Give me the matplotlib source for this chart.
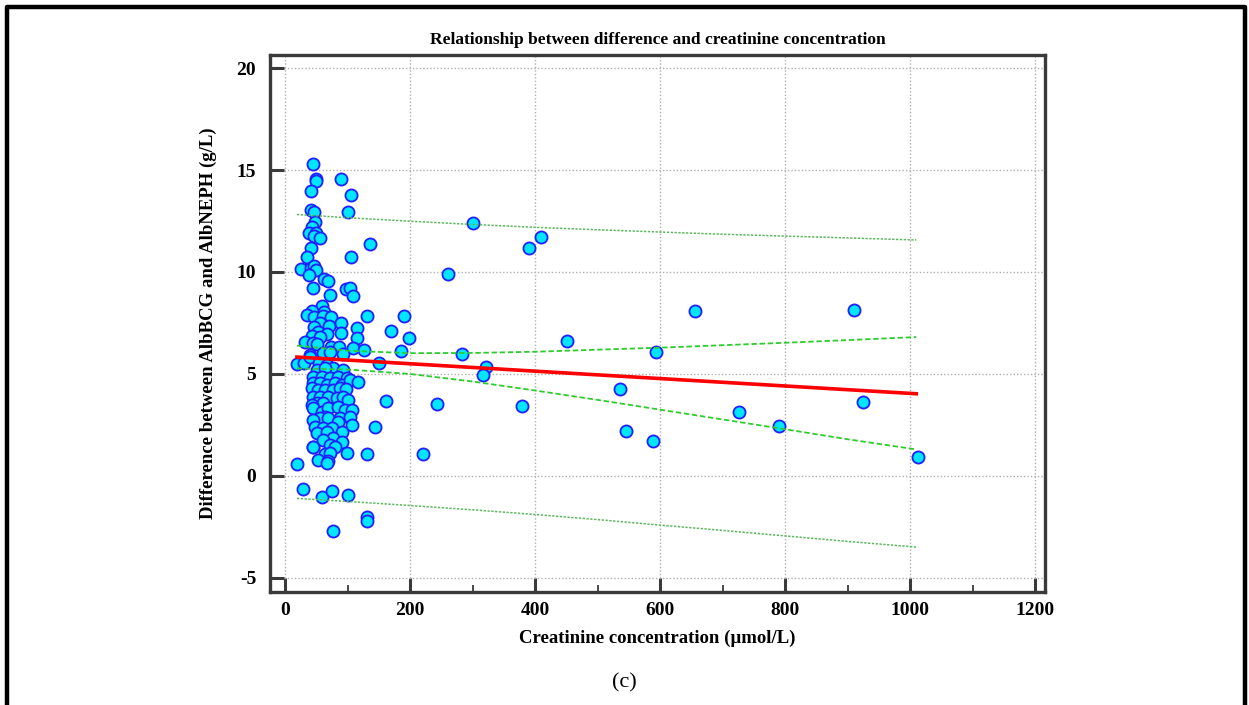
# -*- coding: UTF-8 -*-
import matplotlib
matplotlib.use('Agg')
import matplotlib.pyplot as plt
from matplotlib.lines import Line2D
from matplotlib.ticker import MultipleLocator

plt.rcParams['axes.unicode_minus'] = False

# creatinine (umol/L) and difference AlbBCG - AlbNEPH (g/L)
creat = [44, 50, 49, 89, 42, 106, 42, 46, 101, 47.5, 43, 39, 49, 46, 56.5, 42, 136.5, 35, 106,
         25, 41.6, 47, 49.6, 38, 63, 69, 44.8, 97.6, 103.5, 72, 108.8, 59, 42.7, 34.7, 62, 46.4,
         61, 73.6, 131.7, 190, 56.5, 70, 89, 46, 115.7, 169.6, 52, 67, 89, 43, 56.5, 115, 198,
         31.5, 44, 51.7, 73, 87, 109, 126, 186, 61, 40,
         19.7, 30.4, 40, 72, 92, 150, 54, 66.7, 77, 50.7, 64, 93.3,
         45.3, 58.7, 72, 85.3, 98.7, 45.3, 56, 66.7, 80, 90.7, 104, 117.3, 42.7, 53.3, 64, 77.3,
         88, 97.6, 45.3, 56, 69.3, 82.7, 93.3, 50.7, 61.3, 101.3, 42.7, 45.3, 58.7, 69.3, 85.3,
         96, 106.7, 64, 56, 45.3, 69.3, 88, 104, 85.3, 48, 61.3, 74.7, 106.7, 90.7, 50.7, 66.7,
         77.3, 61.3, 90.7, 45.3, 72, 161.6, 144, 131.7,
         44.3, 80, 64, 72, 98.7, 53.3, 69.3, 66.7, 18.7, 28.3, 59.2, 74.7, 100.8, 131.7, 131.7, 77.3,
         301, 390, 410, 261, 451, 283, 322, 317, 243, 221, 379, 536, 546, 588, 593, 656,
         726, 790, 910, 924, 1013]
diff = [15.28, 14.54, 14.46, 14.54, 13.95, 13.77, 13.04, 12.94, 12.96, 12.45, 12.19, 11.9, 11.9,
        11.76, 11.65, 11.2, 11.37, 10.72, 10.75,
        10.15, 10.21, 10.31, 10.1, 9.85, 9.66, 9.58, 9.23, 9.15, 9.22, 8.86, 8.82, 8.35, 8.09,
        7.89, 8.06, 7.81, 7.83, 7.78, 7.86, 7.86, 7.48, 7.35, 7.48, 7.32, 7.27, 7.12, 7.07, 6.96,
        6.99, 6.85, 6.81, 6.78, 6.78, 6.55, 6.54, 6.46, 6.34, 6.34, 6.26, 6.16, 6.13, 6.01, 5.93,
        5.47, 5.52, 5.82, 6.09, 5.98, 5.52, 5.52, 5.46, 5.28, 5.2, 5.28, 5.2,
        4.87, 4.87, 4.79, 4.87, 4.79, 4.54, 4.54, 4.46, 4.54, 4.46, 4.71, 4.62, 4.30, 4.22, 4.22,
        4.22, 4.30, 4.25, 3.89, 3.89, 3.89, 3.81, 3.89, 3.56, 3.56, 3.73, 3.48, 3.32, 3.15, 3.32,
        3.40, 3.23, 3.23, 2.91, 2.83, 2.74, 2.83, 2.83, 2.91, 2.66, 2.42, 2.34, 2.34, 2.50, 2.17,
        2.09, 2.17, 1.85, 1.76, 1.68, 1.44, 1.52, 3.68, 2.42, 1.06,
        1.41, 1.41, 1.08, 1.11, 1.14, 0.78, 0.75, 0.62, 0.57, -0.65, -1.01, -0.74, -0.95, -1.99,
        -2.21, -2.68,
        12.4, 11.18, 11.72, 9.9, 6.62, 5.98, 5.34, 4.95, 3.53, 1.08, 3.43, 4.26, 2.2, 1.72, 6.08,
        8.09, 3.14, 2.45, 8.14, 3.64, 0.93]

# regression line and bands
band_x = [19, 100, 200, 300, 400, 500, 600, 700, 800, 900, 1010]
fit_y = [5.83, 5.68, 5.50, 5.32, 5.14, 4.96, 4.77, 4.59, 4.41, 4.23, 4.03]
ci_hi = [6.39, 6.14, 6.02, 6.03, 6.09, 6.19, 6.29, 6.41, 6.53, 6.66, 6.81]
ci_lo = [5.27, 5.22, 5.00, 4.63, 4.19, 3.73, 3.25, 2.77, 2.29, 1.80, 1.30]
pi_hi = [12.82, 12.66, 12.49, 12.33, 12.19, 12.07, 11.96, 11.85, 11.76, 11.67, 11.57]
pi_lo = [-1.10, -1.25, -1.45, -1.66, -1.89, -2.14, -2.41, -2.67, -2.94, -3.21, -3.49]

serif = ['Liberation Serif', 'DejaVu Serif']

fig = plt.figure(figsize=(12.49, 7.05), dpi=100)
ax = fig.add_axes([0.2162, 0.1603, 0.6205, 0.7617])

ax.grid(True, color='#b0b0b0', linestyle=(0, (1, 1.5)), linewidth=1.0)
ax.set_axisbelow(True)

ax.scatter(creat, diff, s=76, facecolor='#00e6ff', edgecolor='#1f1fff', linewidth=1.3, zorder=3)

ax.plot(band_x, pi_hi, color='#5cb85c', linestyle=(0, (1.5, 1)), linewidth=1.1, zorder=4)
ax.plot(band_x, pi_lo, color='#5cb85c', linestyle=(0, (1.5, 1)), linewidth=1.1, zorder=4)
ax.plot(band_x, ci_hi, color='#2fcc2f', linestyle=(0, (3, 1.5)), linewidth=1.3, zorder=4)
ax.plot(band_x, ci_lo, color='#2fcc2f', linestyle=(0, (3, 1.5)), linewidth=1.3, zorder=4)
ax.plot([band_x[0], band_x[-1]], [fit_y[0], fit_y[-1]], color='#ff0000', linewidth=2.6, zorder=5)

ax.set_xlim(-24, 1216)
ax.set_ylim(-5.69, 20.64)
ax.xaxis.set_major_locator(MultipleLocator(200))
ax.xaxis.set_minor_locator(MultipleLocator(100))
ax.yaxis.set_major_locator(MultipleLocator(5))

for s in ax.spines.values():
    s.set_color('#3a3a3a')
    s.set_linewidth(2.4)
ax.tick_params(which='major', direction='in', length=10, width=2.2, color='#3a3a3a', pad=10)
ax.tick_params(axis='x', which='major', pad=7)
ax.tick_params(axis='x', which='minor', direction='in', length=5, width=1.3, color='#3a3a3a')
for lab in ax.get_xticklabels() + ax.get_yticklabels():
    lab.set_fontfamily(serif)
    lab.set_fontweight('bold')
    lab.set_fontsize(14)

ax.set_title('Relationship between difference and creatinine concentration',
             family=serif, fontweight='bold', fontsize=12.5, pad=8)
ax.set_xlabel('Creatinine concentration (µmol/L)', family=serif, fontweight='bold',
              fontsize=13.5, labelpad=8)
ax.set_ylabel('Difference between AlbBCG and AlbNEPH (g/L)', family=serif, fontweight='bold',
              fontsize=13.5, labelpad=14)

fig.text(0.4996, 0.031, '(c)', family=serif, fontsize=16, ha='center', va='center')

# outer frame of the page
fx0, fx1, fy1 = 7 / 1249, 1245 / 1249, 1 - 6.5 / 705
fig.add_artist(Line2D([fx0, fx0, fx1, fx1], [0, fy1, fy1, 0], color='black', linewidth=3.2,
                      transform=fig.transFigure))

fig.savefig('out.png', dpi=100)
